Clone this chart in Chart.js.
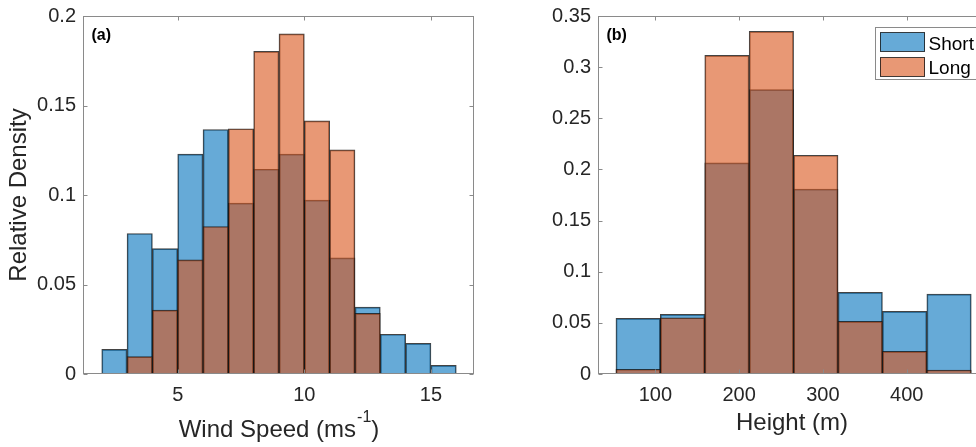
<!DOCTYPE html>
<html><head><meta charset="utf-8">
<script src="https://cdn.jsdelivr.net/npm/chart.js@4.4.0/dist/chart.umd.min.js"></script>
<style>
html,body{margin:0;padding:0;background:#fff;overflow:hidden;width:976px;height:447px;}
#ca{position:absolute;left:0;top:0;}
#cb{position:absolute;left:520px;top:0;}
</style></head><body>
<canvas id="ca" width="500" height="447"></canvas>
<canvas id="cb" width="500" height="447"></canvas>
<script>
// ---------- data ----------
const seriesNames = ['Short', 'Long'];

// Panel (a): wind speed histogram
const binEdgesA = [2, 3, 4, 5, 6, 7, 8, 9, 10, 11, 12, 13, 14, 15, 16];
const shortA = [0.0138, 0.0785, 0.0700, 0.1228, 0.1366, 0.0955, 0.1144, 0.1228, 0.0971, 0.0649, 0.0374, 0.0222, 0.0171, 0.0048];
const longA  = [0, 0.0097, 0.0357, 0.0638, 0.0824, 0.1370, 0.1802, 0.1900, 0.1414, 0.1252, 0.0339, 0, 0, 0];
const xTicksA = [5, 10, 15];
const xTickLabelsA = ['5', '10', '15'];
const yTicksA = [0, 0.05, 0.1, 0.15, 0.2];
const yTickLabelsA = ['0', '0.05', '0.1', '0.15', '0.2'];
const xLimA = [1.26, 16.7];
const yLimA = [0, 0.2];

// Panel (b): height histogram
const binEdgesB = [53, 106, 159, 212, 265, 318, 371, 424, 477];
const shortB = [0.0544, 0.0583, 0.2064, 0.2780, 0.1807, 0.0798, 0.0612, 0.0781];
const longB  = [0.0046, 0.0550, 0.3115, 0.3350, 0.2139, 0.0514, 0.0221, 0.0039];
const xTicksB = [100, 200, 300, 400];
const xTickLabelsB = ['100', '200', '300', '400'];
const yTicksB = [0, 0.05, 0.1, 0.15, 0.2, 0.25, 0.3, 0.35];
const yTickLabelsB = ['0', '0.05', '0.1', '0.15', '0.2', '0.25', '0.3', '0.35'];
const xLimB = [31.6, 494.6];
const yLimB = [0, 0.35];

// ---------- style ----------
const FONT = '"Liberation Sans", Arial, Helvetica, sans-serif';
const TEXT = '#262626';
const AXIS = '#8a8a8a';
const EDGE = 'rgba(20,20,20,0.8)';
const COLORS = ['rgba(0,114,189,0.6)', 'rgba(217,83,25,0.6)'];
Chart.defaults.font.family = FONT;
Chart.defaults.color = TEXT;

const axesPlugin = {
  id: 'matlabAxes',
  afterDatasetsDraw(chart, args, o) {
    const ctx = chart.ctx, a = chart.chartArea;
    const xs = chart.scales.x, ys = chart.scales.y;
    const L = Math.round(a.left) + 0.5, R = Math.round(a.right) - 0.5;
    const T = Math.round(a.top) + 0.5, B = Math.round(a.bottom) - 0.5;
    const TL = 4;
    ctx.save();
    ctx.strokeStyle = AXIS; ctx.lineWidth = 1;
    ctx.strokeRect(L, T, R - L, B - T);
    ctx.beginPath();
    xs.ticks.forEach(t => {
      const px = Math.round(xs.getPixelForValue(t.value)) + 0.5;
      ctx.moveTo(px, B); ctx.lineTo(px, B - TL);
      ctx.moveTo(px, T); ctx.lineTo(px, T + TL);
    });
    ys.ticks.forEach(t => {
      const py = Math.round(ys.getPixelForValue(t.value)) + 0.5;
      ctx.moveTo(L, py); ctx.lineTo(L + TL, py);
      ctx.moveTo(R, py); ctx.lineTo(R - TL, py);
    });
    ctx.stroke();
    ctx.fillStyle = '#000';
    ctx.font = 'bold 16px ' + FONT;
    ctx.textBaseline = 'alphabetic';
    ctx.textAlign = 'left';
    ctx.fillText(o.panel, a.left + 8.5, 40);
    ctx.restore();
  },
  afterDraw(chart, args, o) {
    const ctx = chart.ctx, a = chart.chartArea;
    ctx.save();
    if (o.supTitle) {
      const [t1, sup, t3] = o.supTitle;
      ctx.fillStyle = TEXT;
      ctx.textBaseline = 'alphabetic';
      ctx.textAlign = 'left';
      ctx.font = '24px ' + FONT;
      const w1 = ctx.measureText(t1).width, w3 = ctx.measureText(t3).width;
      ctx.font = '16px ' + FONT;
      const w2 = ctx.measureText(sup).width;
      const cx = (a.left + a.right) / 2;
      let x = cx - (w1 + w2 + w3) / 2;
      ctx.font = '24px ' + FONT;
      ctx.fillText(t1, x, 436.7);
      ctx.font = '16px ' + FONT;
      ctx.fillText(sup, x + w1 + 1, 422.3);
      ctx.font = '24px ' + FONT;
      ctx.fillText(t3, x + w1 + w2 + 1, 436.7);
    }
    if (o.legend) {
      const bx = 875.5 - 520, by = 27.5, bw = 112, bh = 52;
      ctx.fillStyle = '#fff';
      ctx.fillRect(bx, by, bw, bh);
      ctx.strokeStyle = AXIS; ctx.lineWidth = 1;
      ctx.strokeRect(bx, by, bw, bh);
      const rows = [[32.5, 50], [57.5, 74]];
      chart.data.datasets.forEach((d, i) => {
        const [py, base] = rows[i];
        ctx.fillStyle = d.backgroundColor;
        ctx.fillRect(880 - 520, py, 45, 19);
        ctx.strokeStyle = EDGE;
        ctx.strokeRect(880.5 - 520, py, 44, 19);
        ctx.fillStyle = '#000';
        ctx.font = '19px ' + FONT;
        ctx.textBaseline = 'alphabetic';
        ctx.fillText(d.label, 928.5 - 520, base);
      });
    }
    ctx.restore();
  }
};

function makeChart(id, p) {
  const centers = p.edges.slice(0, -1).map((e, i) => (e + p.edges[i + 1]) / 2);
  const mk = (name, vals, color, order) => ({
    label: name,
    data: vals.map((v, i) => ({ x: centers[i], y: v })),
    backgroundColor: color,
    borderColor: EDGE,
    borderWidth: 1,
    grouped: false,
    barPercentage: 1,
    categoryPercentage: 1,
    order: order
  });
  return new Chart(document.getElementById(id), {
    type: 'bar',
    data: { datasets: [mk(seriesNames[0], p.s, COLORS[0], 2), mk(seriesNames[1], p.l, COLORS[1], 1)] },
    options: {
      responsive: false,
      animation: false,
      events: [],
      layout: { padding: { left: 0, right: p.padRight, top: 16, bottom: 0 } },
      plugins: {
        legend: { display: false },
        tooltip: { enabled: false },
        matlabAxes: { panel: p.panel, supTitle: p.supTitle, legend: p.legend }
      },
      scales: {
        x: {
          type: 'linear', offset: false, min: p.xLim[0], max: p.xLim[1],
          grid: { display: false, drawTicks: false },
          border: { display: false },
          afterBuildTicks: s => { s.ticks = p.xTicks.map(v => ({ value: v })); },
          afterFit: s => { s.height = 73; s.paddingLeft = 0; s.paddingRight = 0; },
          ticks: { autoSkip: false, maxRotation: 0, padding: 9, font: { size: 20 }, color: TEXT,
                   callback: (v, i) => p.xLabels[i] },
          title: p.xTitle ? { display: true, text: p.xTitle, font: { size: 24 }, color: TEXT, padding: { top: 0, bottom: 9.2 } } : { display: false }
        },
        y: {
          min: p.yLim[0], max: p.yLim[1],
          grid: { display: false, drawTicks: false },
          border: { display: false },
          afterBuildTicks: s => { s.ticks = p.yTicks.map(v => ({ value: v })); },
          afterFit: s => { s.width = p.yWidth; s.paddingTop = 0; s.paddingBottom = 0; },
          ticks: { padding: 7, font: { size: 20 }, color: TEXT, callback: (v, i) => p.yLabels[i] },
          title: p.yTitle ? { display: true, text: p.yTitle, font: { size: 24 }, color: TEXT, padding: { top: 5, bottom: 0 } } : { display: false }
        }
      }
    },
    plugins: [axesPlugin]
  });
}

makeChart('ca', {
  edges: binEdgesA, s: shortA, l: longA,
  xTicks: xTicksA, xLabels: xTickLabelsA, yTicks: yTicksA, yLabels: yTickLabelsA,
  xLim: xLimA, yLim: yLimA, yWidth: 83, padRight: 26,
  panel: '(a)', yTitle: 'Relative Density', supTitle: ['Wind Speed (ms', '-1', ')'], legend: false
});
makeChart('cb', {
  edges: binEdgesB, s: shortB, l: longB,
  xTicks: xTicksB, xLabels: xTickLabelsB, yTicks: yTicksB, yLabels: yTickLabelsB,
  xLim: xLimB, yLim: yLimB, yWidth: 78, padRight: 34,
  panel: '(b)', xTitle: 'Height (m)', legend: true
});
</script>
</body></html>
